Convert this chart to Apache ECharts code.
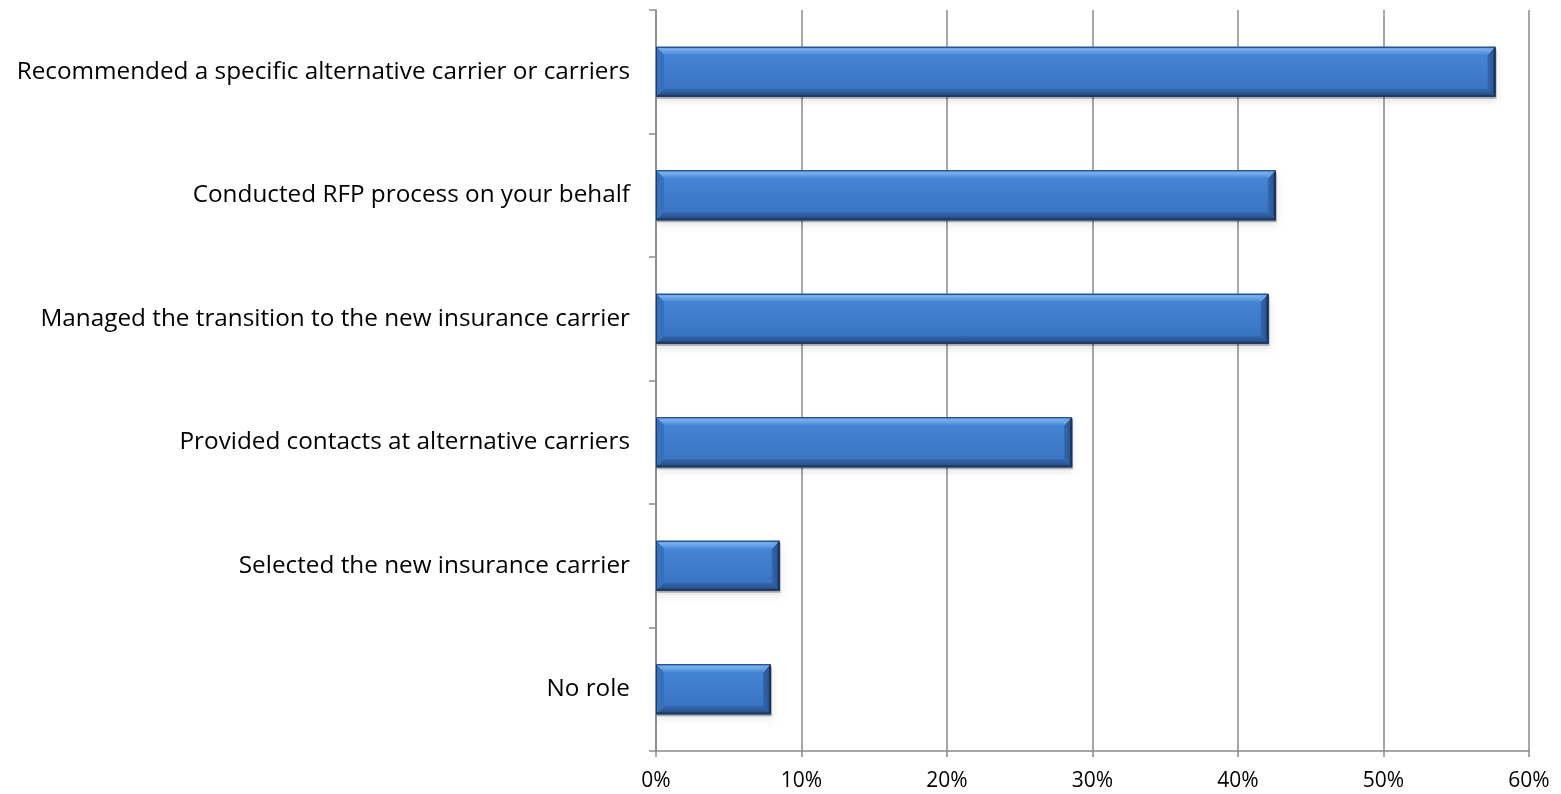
<!DOCTYPE html>
<html>
<head>
<meta charset="utf-8">
<script src="https://cdn.jsdelivr.net/npm/echarts@6/dist/echarts.min.js"></script>
<style>
  html, body { margin: 0; padding: 0; background: #fff; }
  #chart { width: 1561px; height: 794px; }
</style>
</head>
<body>
<div id="chart"></div>
<script>
// Broker's role in the change of insurance carrier (share of respondents)
const categories = [
  'Recommended a specific alternative carrier or carriers',
  'Conducted RFP process on your behalf',
  'Managed the transition to the new insurance carrier',
  'Provided contacts at alternative carriers',
  'Selected the new insurance carrier',
  'No role'
];
const shares = [57.7, 42.6, 42.1, 28.6, 8.5, 7.9];
const xTicks = { min: 0, max: 60, step: 10 };

const chart = echarts.init(document.getElementById('chart'));
const LG = echarts.graphic.LinearGradient;

// Bevelled horizontal bar: body plus four sloped faces and a soft drop shadow
function renderBevelBar(params, api) {
  const idx = api.value(0);
  const val = api.value(1);
  const start = api.coord([0, idx]);
  const end = api.coord([val, idx]);
  const h = 50;
  const x0 = start[0], x1 = end[0];
  const y0 = start[1] - h / 2, y1 = start[1] + h / 2;
  const b = 8;
  return {
    type: 'group',
    children: [
      { type: 'rect', shape: { x: x0 + 1, y: y0 + 2, width: x1 - x0, height: h },
        style: { fill: 'rgba(0,0,0,0.28)', shadowBlur: 7, shadowColor: 'rgba(0,0,0,0.35)', shadowOffsetY: 3 } },
      { type: 'rect', shape: { x: x0, y: y0, width: x1 - x0, height: h },
        style: { fill: new LG(0, 0, 0, 1, [
          { offset: 0, color: '#4788d8' },
          { offset: 0.5, color: '#3f7dcc' },
          { offset: 1, color: '#3870bd' }
        ]) } },
      // top face
      { type: 'polygon', shape: { points: [[x0, y0], [x1, y0], [x1 - b, y0 + b], [x0 + b, y0 + b]] },
        style: { fill: new LG(0, 0, 0, 1, [
          { offset: 0, color: '#4f8fdc' },
          { offset: 0.3, color: '#79b1f0' },
          { offset: 1, color: '#4a89d8' }
        ]) } },
      // bottom face
      { type: 'polygon', shape: { points: [[x0, y1], [x1, y1], [x1 - b, y1 - b], [x0 + b, y1 - b]] },
        style: { fill: new LG(0, 0, 0, 1, [
          { offset: 0, color: '#3468b0' },
          { offset: 1, color: '#24497f' }
        ]) } },
      // left face
      { type: 'polygon', shape: { points: [[x0, y0], [x0 + b, y0 + b], [x0 + b, y1 - b], [x0, y1]] },
        style: { fill: '#3670bf' } },
      // right face
      { type: 'polygon', shape: { points: [[x1, y0], [x1 - b, y0 + b], [x1 - b, y1 - b], [x1, y1]] },
        style: { fill: new LG(0, 0, 1, 0, [
          { offset: 0, color: '#3468b0' },
          { offset: 1, color: '#274f8a' }
        ]) } },
      // top-right highlight
      { type: 'polygon', shape: { points: [[x1, y0], [x1 - b, y0 + b], [x1 - b, y0]] },
        style: { fill: '#6aa5ea' } },
      // outline
      { type: 'rect', shape: { x: x0 + 0.5, y: y0 + 0.5, width: x1 - x0 - 1, height: h - 1 },
        style: { fill: 'none', stroke: '#1f3e6c', lineWidth: 1 } },
      { type: 'line', shape: { x1: x1 - 1, y1: y0 + 1, x2: x1 - 1, y2: y1 - 1 },
        style: { stroke: '#1a345c', lineWidth: 2 } },
      { type: 'line', shape: { x1: x0, y1: y1 - 1, x2: x1, y2: y1 - 1 },
        style: { stroke: '#1f3b63', lineWidth: 2 } }
    ]
  };
}

chart.setOption({
  animation: false,
  grid: { left: 656, right: 32, top: 10, bottom: 43, containLabel: false },
  xAxis: {
    type: 'value',
    min: xTicks.min,
    max: xTicks.max,
    interval: xTicks.step,
    axisLine: { show: true, lineStyle: { color: '#8a8a8a', width: 1.5 } },
    axisTick: { show: true, length: 6, lineStyle: { color: '#8a8a8a', width: 1.5 } },
    splitLine: { show: true, lineStyle: { color: '#8a8a8a', width: 1.5 } },
    axisLabel: {
      formatter: '{value}%',
      color: '#000',
      fontFamily: 'Open Sans',
      fontSize: 21,
      margin: 20
    }
  },
  yAxis: {
    type: 'category',
    data: categories,
    inverse: true,
    axisLine: { show: true, lineStyle: { color: '#8a8a8a', width: 1.5 } },
    axisTick: { show: true, length: 7, lineStyle: { color: '#8a8a8a', width: 1.5 } },
    splitLine: { show: false },
    axisLabel: {
      color: '#000',
      fontFamily: 'Open Sans',
      fontSize: 24.3,
      margin: 26
    }
  },
  series: [{
    type: 'custom',
    renderItem: renderBevelBar,
    encode: { x: 1, y: 0 },
    data: shares.map((v, i) => [i, v])
  }]
});
</script>
</body>
</html>
